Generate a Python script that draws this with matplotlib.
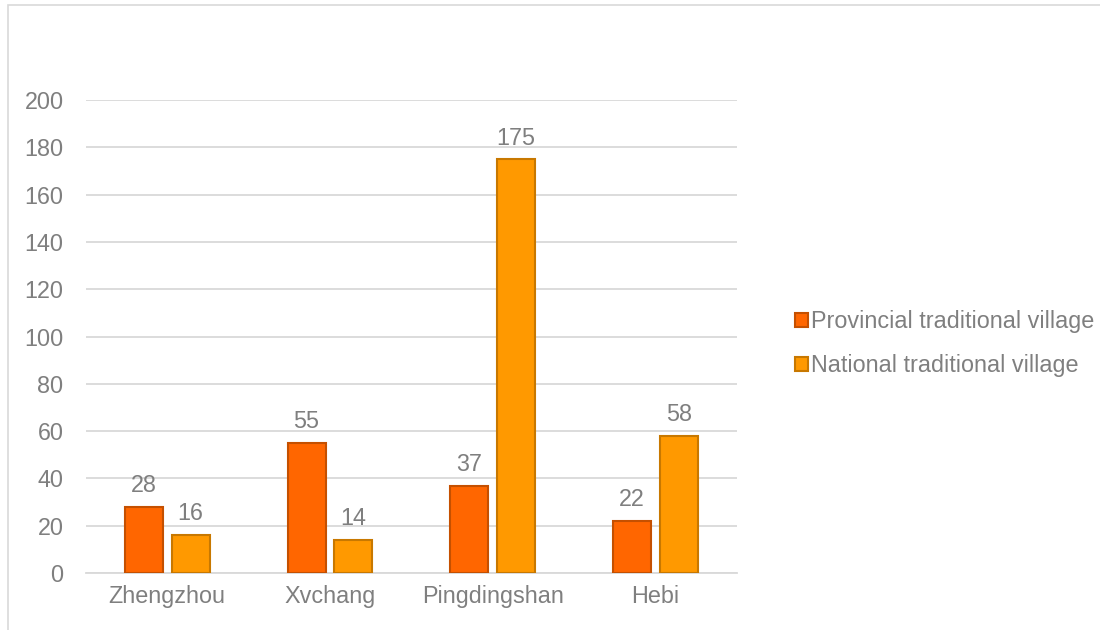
import numpy as np
import matplotlib.pyplot as plt
from matplotlib.patches import Rectangle

plt.rcParams['font.family'] = ['Liberation Sans', 'DejaVu Sans']

cities = ['Zhengzhou', 'Xvchang', 'Pingdingshan', 'Hebi']
provincial = [28, 55, 37, 22]
national = [16, 14, 175, 58]
yticks = [0, 20, 40, 60, 80, 100, 120, 140, 160, 180, 200]

fs = 16.8
gray = '#7f7f7f'

fig = plt.figure(figsize=(11, 6.3), dpi=100)
ax = fig.add_axes([0.078, 0.0905, 0.592, 0.7505])

# outer chart frame
fig.patches.append(Rectangle((8 / 1100, -0.1), 1.2, 1 - 5 / 630 + 0.1,
                             transform=fig.transFigure, fill=False,
                             edgecolor='#d9d9d9', linewidth=1.2))

x = np.arange(len(cities))
w = 0.233
off = (w + 0.055) / 2
b1 = ax.bar(x - off, provincial, w, color='#ff6600', edgecolor='#c55000',
            linewidth=1.5, label='Provincial traditional village', zorder=3)
b2 = ax.bar(x + off, national, w, color='#ff9900', edgecolor='#c87800',
            linewidth=1.5, label='National traditional village', zorder=3)

for bars in (b1, b2):
    ax.bar_label(bars, padding=7, fontsize=fs, color=gray)

ax.set_xlim(-0.5, 3.5)
ax.set_ylim(0, 200)
ax.set_yticks(yticks)
ax.set_xticks(x)
ax.set_xticklabels(cities)
ax.tick_params(length=0, labelsize=fs, labelcolor=gray)
ax.tick_params(axis='x', pad=9)
ax.tick_params(axis='y', pad=16)
ax.grid(axis='y', color='#d9d9d9', linewidth=1.3, zorder=0)
for s in ['top', 'right', 'left']:
    ax.spines[s].set_visible(False)
ax.spines['bottom'].set_color('#d9d9d9')
ax.spines['bottom'].set_linewidth(1.3)

ax.legend(loc='center left', bbox_to_anchor=(1.071, 0.485), frameon=False,
          fontsize=fs, labelcolor=gray, handlelength=0.55,
          handleheight=0.55, handletextpad=0.15, labelspacing=0.92,
          borderpad=0)

fig.savefig('out.png', dpi=100)
